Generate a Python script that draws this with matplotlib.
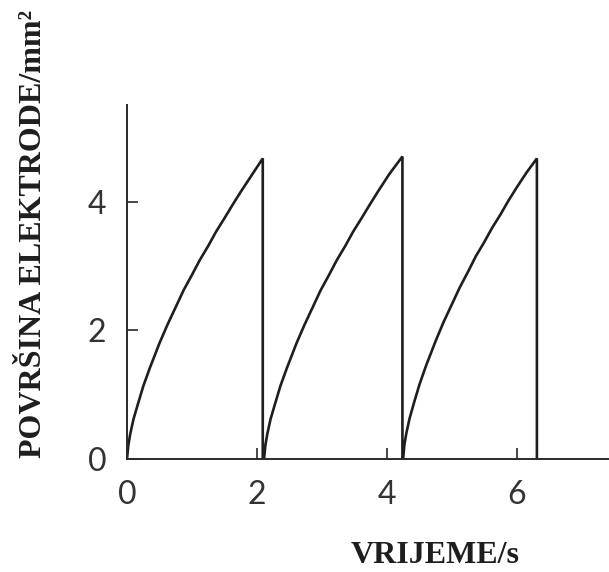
import numpy as np
import matplotlib
matplotlib.use('Agg')
import matplotlib.pyplot as plt

# podaci ocitani sa slike (povrsina kapi zive kroz tri kapi)
t_kap1 = [0.0, 0.02, 0.05, 0.10, 0.17, 0.25, 0.35, 0.50, 0.62, 0.75, 0.87, 1.00,
          1.12, 1.25, 1.37, 1.50, 1.62, 1.75, 1.92, 2.09]
a_kap1 = [0.0, 0.21, 0.39, 0.62, 0.86, 1.13, 1.41, 1.80, 2.08, 2.36, 2.62, 2.86,
          3.09, 3.31, 3.53, 3.74, 3.94, 4.15, 4.41, 4.67]

t_kap2 = [2.09, 2.11, 2.13, 2.16, 2.21, 2.28, 2.36, 2.46, 2.61, 2.73, 2.86, 2.98,
          3.11, 3.23, 3.36, 3.48, 3.61, 3.73, 3.86, 4.04, 4.24]
a_kap2 = [0.0, 0.0, 0.21, 0.39, 0.62, 0.86, 1.13, 1.41, 1.80, 2.08, 2.36, 2.62,
          2.86, 3.09, 3.31, 3.53, 3.74, 3.94, 4.15, 4.43, 4.70]

t_kap3 = [4.24, 4.25, 4.27, 4.30, 4.35, 4.42, 4.50, 4.60, 4.75, 4.87, 5.00, 5.12,
          5.25, 5.37, 5.50, 5.62, 5.75, 5.87, 6.00, 6.15, 6.31, 6.31]
a_kap3 = [0.0, 0.0, 0.22, 0.40, 0.63, 0.88, 1.15, 1.44, 1.83, 2.12, 2.40, 2.66,
          2.91, 3.15, 3.37, 3.59, 3.80, 4.01, 4.22, 4.45, 4.67, 0.0]

x_ticks = [0, 2, 4, 6]
y_ticks = [0, 2, 4]

t_all = t_kap1 + t_kap2 + t_kap3
a_all = a_kap1 + a_kap2 + a_kap3

fig = plt.figure(figsize=(6.09, 5.72), dpi=100)
ax = fig.add_axes([127/609, 113/572, 482/609, 354/572])

ax.plot(t_all, a_all, color='#1e1e1e', linewidth=1.9, solid_joinstyle='miter')

ax.set_xlim(0, 7.42)
ax.set_ylim(0, 5.5)
ax.set_xticks(x_ticks)
ax.set_yticks(y_ticks)

for s in ['top', 'right']:
    ax.spines[s].set_visible(False)
for s in ['left', 'bottom']:
    ax.spines[s].set_linewidth(1.4)
    ax.spines[s].set_color('#2a2a2a')

tick_font = dict(family=['Lato', 'DejaVu Sans'], size=23, weight='normal')
ax.tick_params(direction='in', length=8, width=1.2, color='#2a2a2a', pad=15)
ax.set_xticklabels([str(v) for v in x_ticks], fontdict=tick_font, color='#333333')
ax.set_yticklabels([str(v) for v in y_ticks], fontdict=tick_font, color='#333333')

label_font = dict(family=['Liberation Serif', 'DejaVu Serif'], size=23, weight='bold')
ax.set_xlabel('VRIJEME/s', fontdict=label_font, color='#1e1e1e')
ax.set_ylabel('POVRŠINA ELEKTRODE/mm²', fontdict=label_font, color='#1e1e1e')
ax.xaxis.set_label_coords(0.639, -0.272)
ax.xaxis.label.set_va('center')
ax.yaxis.set_label_coords(-0.195, 0.636)
ax.yaxis.label.set_va('center')

plt.savefig('out.png', dpi=100)
